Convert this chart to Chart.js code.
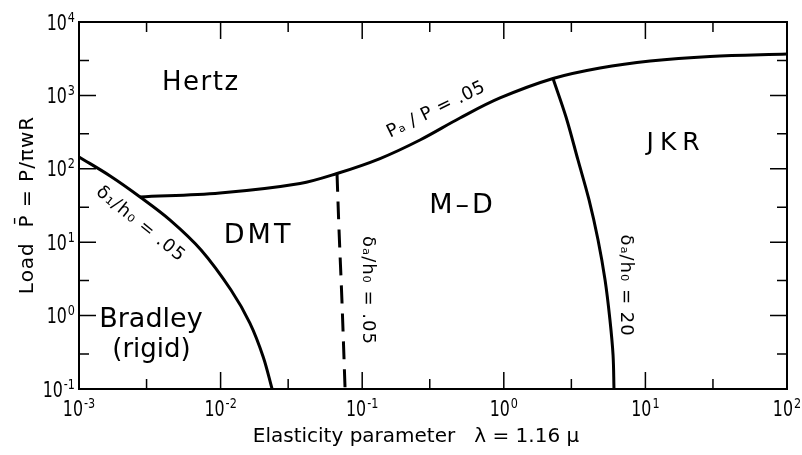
<!DOCTYPE html>
<html lang="en">
<head>
<meta charset="UTF-8">
<title>Adhesion map</title>
<script src="https://cdn.jsdelivr.net/npm/chart.js"></script>
<style>
    body { margin: 0; background: #fff; }
    #wrap { width: 802px; height: 455px; }
</style>
</head>
<body>
<div id="wrap"><canvas id="map"></canvas></div>
<script>
// boundary curves (x = elasticity parameter, y = load)
var paX = [0.0027, 0.0099, 0.0364, 0.0664, 0.1336, 0.256, 0.49, 0.94, 2.226, 4.78, 10.8, 28.6, 100];
var paY = [41.3, 46.8, 63.1, 86.3, 138, 247, 492, 922, 1699, 2362, 2942, 3388, 3664];

var d1X = [0.001, 0.00166, 0.0027, 0.0044, 0.00728, 0.01184, 0.0161, 0.0200, 0.0231];
var d1Y = [145, 79.8, 41.3, 20.0, 7.83, 2.23, 0.79, 0.273, 0.1];

var da05X = [0.0664, 0.0686, 0.0719, 0.0757];
var da05Y = [86.3, 14.7, 1.63, 0.1];

var da20X = [2.226, 2.75, 3.34, 4.00, 4.63, 5.19, 5.62, 5.91, 6.0];
var da20Y = [1699, 508, 132, 37.6, 10.7, 3.05, 0.871, 0.290, 0.1];

// axis ticks
var xMajor = [0.001, 0.01, 0.1, 1, 10, 100];
var xMinor = [0.003, 0.03, 0.3, 3, 30];
var xExp = ['-3', '-2', '-1', '0', '1', '2'];
var yMajor = [0.1, 1, 10, 100, 1000, 10000];
var yMinor = [0.3, 3, 30, 300, 3000];
var yExp = ['-1', '0', '1', '2', '3', '4'];

var FONT = '"DejaVu Sans", sans-serif';

// region names and curve labels (placed in data coordinates)
var notes = [
    { t: 'Hertz', x: 0.00716, y: 1186, size: 26, sp: 1.5, rot: 0, base: true },
    { t: 'DMT', x: 0.0181, y: 9.75, size: 27, sp: 3, rot: 0, base: true },
    { t: 'M\u2013D', x: 0.499, y: 25.0, size: 27, sp: 3, rot: 0, base: true },
    { t: 'JKR', x: 15.7, y: 180, size: 25, sp: 6, rot: 0, base: true },
    { t: 'Bradley', x: 0.00322, y: 0.70, size: 27, sp: 0, rot: 0, base: true },
    { t: '(rigid)', x: 0.00325, y: 0.273, size: 26, sp: 0, rot: 0, base: true },
    { t: '\u03b4\u2081/h\u2080 = .05', x: 0.0027, y: 17.7, size: 18, sp: 1, rot: 39 },
    { t: 'P\u2090 / P = .05', x: 0.332, y: 632, size: 18, sp: 0.5, rot: -26 },
    { t: '\u03b4\u2090/h\u2080 = .05', x: 0.110, y: 2.23, size: 18, sp: 1, rot: 90 },
    { t: '\u03b4\u2090/h\u2080 = 20', x: 7.3, y: 2.61, size: 18, sp: 1, rot: 90 }
];

function pts(xs, ys) {
    return xs.map(function (x, i) { return { x: x, y: ys[i] }; });
}

function curve(xs, ys, dash) {
    return {
        data: pts(xs, ys),
        showLine: true,
        borderColor: '#000',
        borderWidth: 3,
        borderDash: dash || [],
        pointRadius: 0,
        tension: 0.35,
        fill: false
    };
}

// "10" with a raised exponent; the digits of the original are narrow
function power(ctx, exp, x, y, align) {
    var kb = 0.72, ke = 0.8;
    ctx.font = '22px ' + FONT;
    var w = ctx.measureText('10').width * kb;
    ctx.font = '14px ' + FONT;
    var we = ctx.measureText(exp).width * ke;
    var total = w + 1 + we;
    var left = align === 'center' ? x - total / 2 : x - total;
    ctx.save();
    ctx.translate(left, y);
    ctx.scale(kb, 1);
    ctx.font = '22px ' + FONT;
    ctx.fillText('10', 0, 0);
    ctx.restore();
    ctx.save();
    ctx.translate(left + w + 1, y - 8);
    ctx.scale(ke, 1);
    ctx.font = '14px ' + FONT;
    ctx.fillText(exp, 0, 0);
    ctx.restore();
}

var framePlugin = {
    id: 'frame',
    afterDraw: function (chart) {
        var ctx = chart.ctx, a = chart.chartArea;
        var sx = chart.scales.x, sy = chart.scales.y;
        ctx.save();
        ctx.strokeStyle = '#000';
        ctx.fillStyle = '#000';
        ctx.lineWidth = 2;
        ctx.strokeRect(a.left, a.top, a.right - a.left, a.bottom - a.top);

        // inward ticks on all four sides
        ctx.lineWidth = 1.5;
        ctx.beginPath();
        function tx(v, len) {
            var p = sx.getPixelForValue(v);
            ctx.moveTo(p, a.bottom); ctx.lineTo(p, a.bottom - len);
            ctx.moveTo(p, a.top); ctx.lineTo(p, a.top + len);
        }
        function ty(v, len) {
            var p = sy.getPixelForValue(v);
            ctx.moveTo(a.left, p); ctx.lineTo(a.left + len, p);
            ctx.moveTo(a.right, p); ctx.lineTo(a.right - len, p);
        }
        xMajor.slice(1, -1).forEach(function (v) { tx(v, 17); });
        xMinor.forEach(function (v) { tx(v, 10); });
        yMajor.slice(1, -1).forEach(function (v) { ty(v, 17); });
        yMinor.forEach(function (v) { ty(v, 10); });
        ctx.stroke();

        // tick labels
        ctx.textAlign = 'left';
        ctx.textBaseline = 'alphabetic';
        xMajor.forEach(function (v, i) {
            power(ctx, xExp[i], sx.getPixelForValue(v), a.bottom + 27, 'center');
        });
        yMajor.forEach(function (v, i) {
            power(ctx, yExp[i], 75, sy.getPixelForValue(v) + 7.5, 'right');
        });

        // axis titles
        ctx.textAlign = 'center';
        ctx.font = '20px ' + FONT;
        ctx.fillText('Elasticity parameter   \u03bb = 1.16 \u03bc', 416, 442);
        ctx.save();
        ctx.translate(33, 205);
        ctx.rotate(-Math.PI / 2);
        ctx.letterSpacing = '1px';
        ctx.fillText('Load  P\u0304 = P/\u03c0wR', 0, 0);
        ctx.restore();

        // region names and curve labels
        notes.forEach(function (n) {
            var px = sx.getPixelForValue(n.x), py = sy.getPixelForValue(n.y);
            ctx.save();
            ctx.translate(px, py);
            ctx.rotate(n.rot * Math.PI / 180);
            ctx.font = n.size + 'px ' + FONT;
            ctx.letterSpacing = n.sp + 'px';
            ctx.textAlign = 'center';
            ctx.textBaseline = n.base ? 'alphabetic' : 'middle';
            ctx.fillText(n.t, n.sp / 2, 0);
            ctx.restore();
        });
        ctx.restore();
    }
};

new Chart(document.getElementById('map'), {
    type: 'scatter',
    data: {
        datasets: [
            curve(paX, paY),
            curve(d1X, d1Y),
            curve(da05X, da05Y, [18, 10]),
            curve(da20X, da20Y)
        ]
    },
    options: {
        responsive: true,
        maintainAspectRatio: false,
        animation: false,
        events: [],
        layout: { padding: { top: 22, right: 15, left: 0, bottom: 0 } },
        plugins: { legend: { display: false }, tooltip: { enabled: false } },
        scales: {
            x: {
                type: 'logarithmic', min: 0.001, max: 100,
                ticks: { display: false }, grid: { display: false }, border: { display: false },
                afterFit: function (s) { s.height = 66; }
            },
            y: {
                type: 'logarithmic', min: 0.1, max: 10000,
                ticks: { display: false }, grid: { display: false }, border: { display: false },
                afterFit: function (s) { s.width = 79; }
            }
        }
    },
    plugins: [framePlugin]
});
</script>
</body>
</html>
